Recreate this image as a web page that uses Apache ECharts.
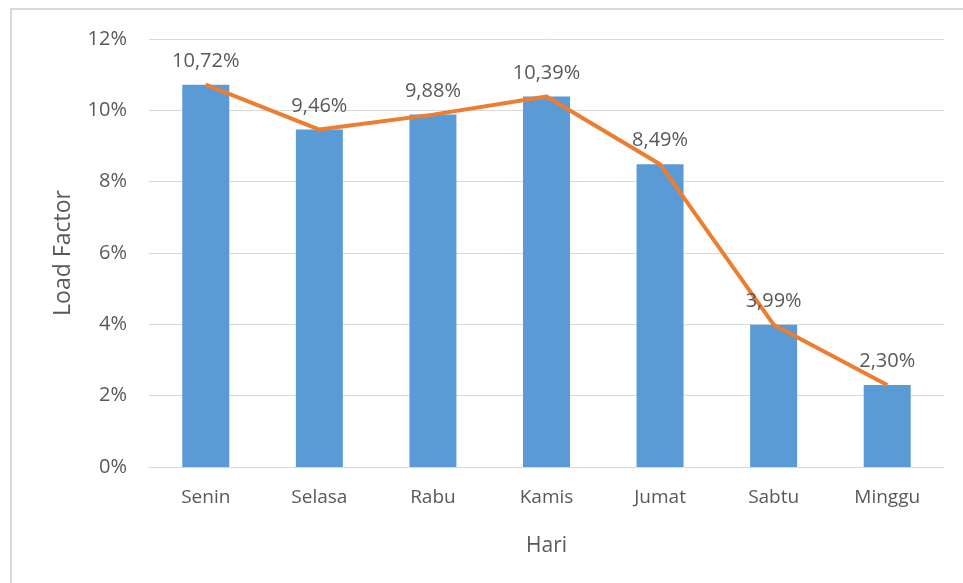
<!DOCTYPE html>
<html>
<head>
<meta charset="utf-8">
<script src="https://cdn.jsdelivr.net/npm/echarts@6/dist/echarts.min.js"></script>
<style>
  html, body { margin: 0; padding: 0; background: #fff; }
  #chart { width: 963px; height: 583px; }
</style>
</head>
<body>
<div id="chart"></div>
<script>
// data Load Factor per hari
let hari = ['Senin', 'Selasa', 'Rabu', 'Kamis', 'Jumat', 'Sabtu', 'Minggu']
let load_bar = [10.72, 9.46, 9.88, 10.39, 8.49, 3.99, 2.30]
let load_line = [10.72, 9.46, 9.88, 10.39, 8.49, 3.99, 2.30]
let y_ticks = [0, 2, 4, 6, 8, 10, 12]

let font = 'Open Sans, Noto Sans, sans-serif'
let textColor = '#595959'

let chart = echarts.init(document.getElementById('chart'))

let option = {
  animation: false,
  backgroundColor: '#fff',
  textStyle: { fontFamily: font },
  graphic: [
    {
      type: 'rect',
      shape: { x: 11, y: 9, width: 970, height: 600 },
      style: { fill: 'none', stroke: '#d9d9d9', lineWidth: 2 },
      silent: true
    }
  ],
  grid: { left: 149, right: 19, top: 39, bottom: 116 },
  xAxis: {
    type: 'category',
    data: hari,
    name: 'Hari',
    nameLocation: 'middle',
    nameGap: 69,
    nameTextStyle: { color: textColor, fontSize: 21, fontFamily: font },
    axisLine: { lineStyle: { color: '#d9d9d9', width: 1 } },
    axisTick: { show: false },
    axisLabel: { color: textColor, fontSize: 19, margin: 21, fontFamily: font }
  },
  yAxis: {
    type: 'value',
    min: y_ticks[0],
    max: y_ticks[y_ticks.length - 1],
    interval: 2,
    name: 'Load Factor',
    nameLocation: 'middle',
    nameGap: 74,
    nameTextStyle: { color: textColor, fontSize: 23, fontFamily: font },
    axisLine: { show: false },
    axisTick: { show: false },
    splitLine: { lineStyle: { color: '#d9d9d9', width: 1 } },
    axisLabel: {
      color: textColor,
      fontSize: 20,
      margin: 22,
      fontFamily: font,
      formatter: '{value}%'
    }
  },
  series: [
    {
      type: 'bar',
      data: load_bar,
      barWidth: 47,
      itemStyle: { color: '#5b9bd5' }
    },
    {
      type: 'line',
      data: load_line,
      symbol: 'circle',
      symbolSize: 1,
      showSymbol: true,
      lineStyle: { color: '#ed7d31', width: 4 },
      itemStyle: { color: '#ed7d31' },
      label: {
        show: true,
        position: 'top',
        distance: 13,
        color: textColor,
        fontSize: 20,
        fontFamily: font,
        formatter: function (p) {
          return p.value.toFixed(2).replace('.', ',') + '%'
        }
      }
    }
  ]
}

chart.setOption(option)
</script>
</body>
</html>
